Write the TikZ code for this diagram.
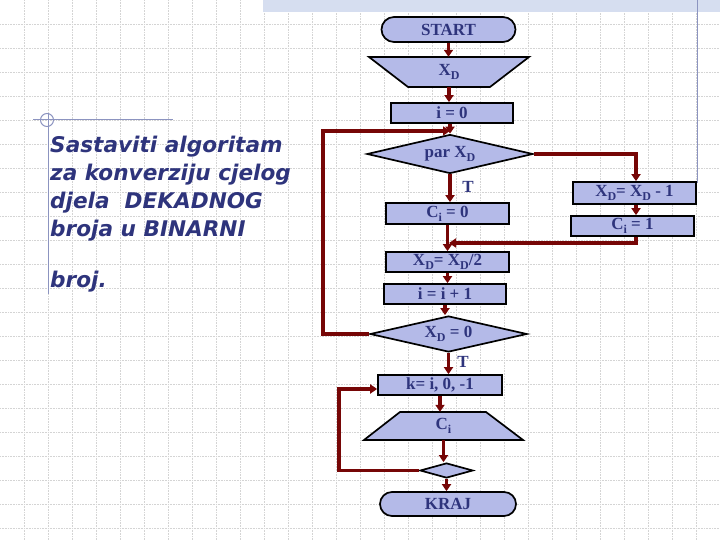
\documentclass[tikz,border=0pt]{standalone}
\usepackage{fontspec}
\setmainfont{Liberation Serif}
\newfontfamily\leftfont{DejaVu Sans}
\usetikzlibrary{arrows.meta,shapes.geometric,shapes.misc}
\definecolor{boxfill}{RGB}{180,186,232}
\definecolor{txtc}{RGB}{46,52,124}
\definecolor{arrc}{RGB}{118,6,6}
\definecolor{gridc}{RGB}{212,212,212}
\definecolor{bandc}{RGB}{214,222,240}
\definecolor{decor}{RGB}{140,148,192}
\newcommand\lo[1]{\raisebox{-4pt}{\fontsize{12}{12}\selectfont #1}}
\begin{document}
\begin{tikzpicture}[x=1pt,y=-1pt,
  chartfont/.style={font=\bfseries\fontsize{17}{20}\selectfont},
  base/.style={draw=black, line width=1.7pt, fill=boxfill, text=txtc, chartfont, inner sep=0pt},
  proc/.style={base, rectangle},
  term/.style={base, rounded rectangle},
  dec/.style={base, diamond, aspect=4},
  ioshape/.style={draw=black, line width=1.7pt, fill=boxfill},
  iotext/.style={text=txtc, chartfont, inner sep=0pt},
  arr/.style={draw=arrc, line width=3.5pt, -{Triangle[length=7pt,width=9pt]}},
  lbl/.style={text=txtc, chartfont, inner sep=0pt},
  lefttxt/.style={text=txtc, inner sep=0pt, anchor=base west, font=\leftfont\bfseries\itshape\fontsize{21.6}{27}\selectfont},
  gridline/.style={draw=gridc, densely dotted, line width=0.6pt},
  decoline/.style={draw=decor, line width=1pt}
]
\useasboundingbox (0,0) rectangle (720,540);
% background grid
\foreach \x in {24,48,...,696} \draw[gridline] (\x,0) -- (\x,540);
\foreach \y in {24,48,...,528} \draw[gridline] (0,\y) -- (720,\y);
% top band and decoration
\fill[bandc] (263,0) rectangle (720,12);
\draw[decoline] (697,0) -- (697,183);
\draw[decoline] (33,120) -- (173,120);
\draw[decoline] (48,113) -- (48,294);
\draw[decoline] (47,120) circle (6.5);
% left text
\node[lefttxt] (l1) at (50,153) {Sastaviti algoritam};
\node[lefttxt] (l2) at (50,181) {za konverziju cjelog};
\node[lefttxt] (l3) at (50,208.5) {djela\ \ DEKADNOG};
\node[lefttxt] (l4) at (50,236.5) {broja u BINARNI};
\node[lefttxt] (l5) at (50,287) {broj.};
% trapezoid shapes
\filldraw[ioshape] (369,57) -- (529,57) -- (490,87) -- (408,87) -- cycle;
\filldraw[ioshape] (400,412) -- (486,412) -- (523,440) -- (364,440) -- cycle;
% nodes
\node[term, minimum width=134, minimum height=25] (start) at (448.5,29.5) {START};
\node[iotext, minimum width=160, minimum height=30] (xd) at (449,72) {X\lo{D}};
\node[proc, minimum width=122, minimum height=20] (i0) at (452,113) {i = 0};
\node[dec, minimum width=166, minimum height=39] (par) at (450,154) {par X\lo{D}};
\node[proc, minimum width=123, minimum height=21] (ci0) at (447.5,213.5) {C\lo{i} = 0};
\node[proc, minimum width=123, minimum height=20] (xd2) at (447.5,262) {X\lo{D}= X\lo{D}/2};
\node[proc, minimum width=122, minimum height=20] (inc) at (445,294) {i = i + 1};
\node[dec, minimum width=157, minimum height=36] (xd0) at (448.5,334) {X\lo{D} = 0};
\node[proc, minimum width=124, minimum height=20] (k) at (440,385) {k= i, 0, -1};
\node[iotext, minimum width=159, minimum height=28] (ci) at (443.5,426) {C\lo{i}};
\node[dec, minimum width=53, minimum height=15] (sd) at (446.5,470.5) {};
\node[term, minimum width=136, minimum height=24] (kraj) at (448,504) {KRAJ};
\node[proc, minimum width=123, minimum height=22] (xdm1) at (634.5,193) {X\lo{D}= X\lo{D} - 1};
\node[proc, minimum width=123, minimum height=20] (ci1) at (632.5,226) {C\lo{i} = 1};
% labels
\node[lbl, anchor=base] (t1) at (468,193) {T};
\node[lbl, anchor=base] (t2) at (463,367) {T};
% helper coordinates
\coordinate (lp) at (323,131);
\coordinate (j1) at (449,243);
\coordinate (lk) at (339,389);
\coordinate (rb) at (636,154);
% connectors
\draw[arr] (start.south) -- (start.south |- xd.north);
\draw[arr] (xd.south) -- (xd.south |- i0.north);
\draw[arr] (i0.south -| par.north) -- (par.north);
\draw[arr] (xd0.west) -| (lp) -- (lp -| par.north);
\draw[arr] (par.south) -- (par.south |- ci0.north);
\draw[arr] (par.east) -- (rb) -- (rb |- xdm1.north);
\draw[arr] (rb |- xdm1.south) -- (rb |- ci1.north);
\draw[arr] (rb |- ci1.south) |- (j1);
\draw[arr] (ci0.south) -- (ci0.south |- xd2.north);
\draw[arr] (xd2.south) -- (xd2.south |- inc.north);
\draw[arr] (inc.south) -- (inc.south |- xd0.north);
\draw[arr] (xd0.south) -- (xd0.south |- k.north);
\draw[arr] (k.south) -- (k.south |- ci.north);
\draw[arr] (ci.south) -- (ci.south |- sd.north);
\draw[arr] (sd.south) -- (sd.south |- kraj.north);
\draw[arr] (sd.west) -| (lk) -- (lk -| k.west);
\end{tikzpicture}
\end{document}
